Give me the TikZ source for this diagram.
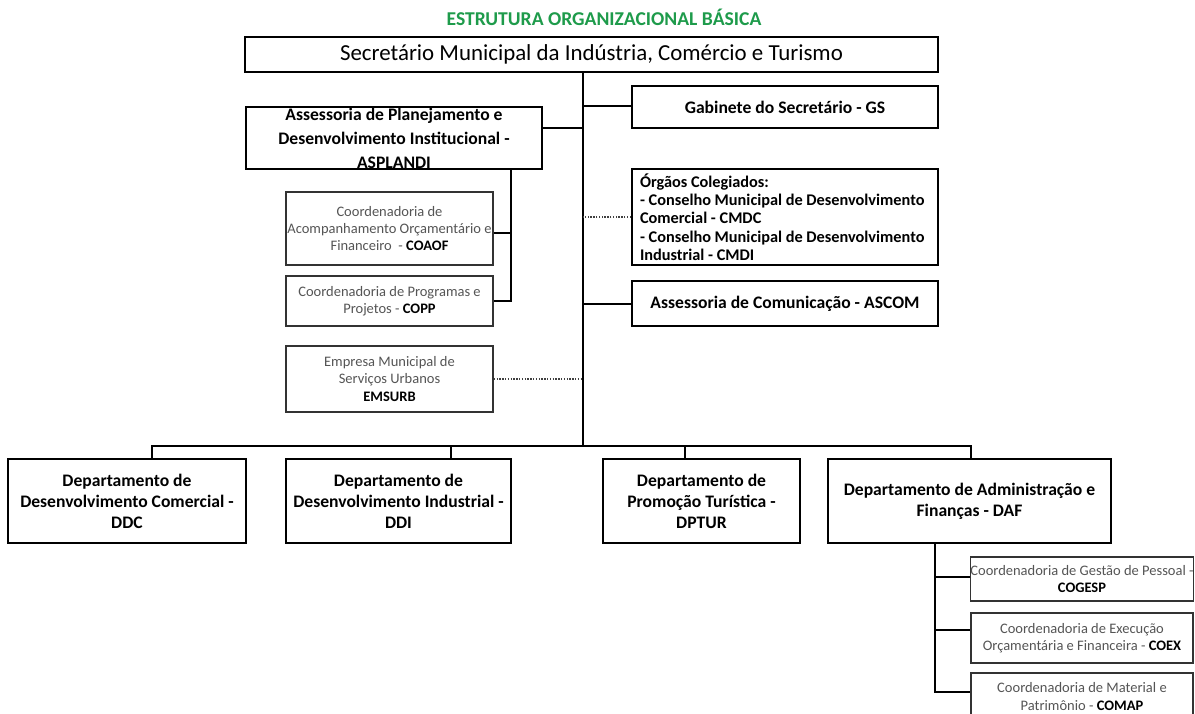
\documentclass[tikz,border=0pt]{standalone}
\usepackage{fontspec}
\setmainfont{Carlito}
\usetikzlibrary{calc}
\definecolor{titlegreen}{HTML}{1E9B4B}
\definecolor{smallgray}{HTML}{555555}
\begin{document}
\begin{tikzpicture}[x=1pt,y=-1pt,
  mainbox/.style={draw=black, line width=2.2pt, fill=white, inner sep=0pt, align=center,
    font=\fontsize{17.6}{21}\selectfont\bfseries},
  subbox/.style={draw=black!80, line width=1.6pt, fill=white, inner sep=0pt, align=center,
    text=smallgray, font=\fontsize{14.5}{17.2}\selectfont},
  conn/.style={line width=2pt},
  dotconn/.style={line width=1.6pt, black!75, dash pattern=on 1.4pt off 1.4pt}]
\useasboundingbox (0,0) rectangle (1195,713);
\clip (0,0) rectangle (1195,713);

\node[text=titlegreen, font=\fontsize{19.6}{22}\selectfont\bfseries] (title) at (604,17) {ESTRUTURA ORGANIZACIONAL BÁSICA};

\node[mainbox, minimum width=693, minimum height=35, font=\fontsize{22.9}{26}\selectfont] (sec) at (591.5,54.5)
  {Secretário Municipal da Indústria, Comércio e Turismo};
\node[mainbox, minimum width=306, minimum height=42] (gs) at (785,107) {Gabinete do Secretário - GS};
\node[mainbox, minimum width=296, minimum height=62, font=\fontsize{17.6}{24}\selectfont\bfseries] (asp) at (394,138)
  {Assessoria de Planejamento e\\Desenvolvimento Institucional -\\ASPLANDI};
\node[mainbox, minimum width=306, minimum height=96, text width=290, align=flush left,
  font=\fontsize{16.3}{18.3}\selectfont\bfseries] (org) at (785,217)
  {Órgãos Colegiados:\\- Conselho Municipal de Desenvolvimento\\Comercial - CMDC\\- Conselho Municipal de Desenvolvimento\\Industrial - CMDI};
\node[mainbox, minimum width=306, minimum height=45] (ascom) at (785,303.5) {Assessoria de Comunicação - ASCOM};

\node[subbox, minimum width=207, minimum height=73] (coaof) at (389.5,228.5)
  {Coordenadoria de\\Acompanhamento Orçamentário e\\Financeiro \ - \textcolor{black}{\bfseries COAOF}};
\node[subbox, minimum width=207, minimum height=50] (copp) at (389.5,301)
  {Coordenadoria de Programas e\\Projetos - \textcolor{black}{\bfseries COPP}};
\node[subbox, minimum width=207, minimum height=66] (emsurb) at (389.5,379)
  {Empresa Municipal de\\Serviços Urbanos\\\textcolor{black}{\bfseries EMSURB}};

\node[mainbox, minimum width=238, minimum height=84] (ddc) at (127,501)
  {Departamento de\\Desenvolvimento Comercial -\\DDC};
\node[mainbox, minimum width=225, minimum height=84] (ddi) at (398.5,501)
  {Departamento de\\Desenvolvimento Industrial -\\DDI};
\node[mainbox, minimum width=197, minimum height=84] (dptur) at (701.5,501)
  {Departamento de\\Promoção Turística -\\DPTUR};
\node[mainbox, minimum width=283, minimum height=84] (daf) at (969.5,501)
  {Departamento de Administração e\\Finanças - DAF};

\node[subbox, minimum width=222, minimum height=44] (cogesp) at (1082,579)
  {Coordenadoria de Gestão de Pessoal -\\\textcolor{black}{\bfseries COGESP}};
\node[subbox, minimum width=222, minimum height=50] (coex) at (1082,638)
  {Coordenadoria de Execução\\Orçamentária e Financeira - \textcolor{black}{\bfseries COEX}};
\node[subbox, minimum width=222, minimum height=47] (comap) at (1082,696.5)
  {Coordenadoria de Material e\\Patrimônio - \textcolor{black}{\bfseries COMAP}};

% reference coordinates
\coordinate (sp) at (583,446);
\coordinate (as) at (511,0);
\coordinate (d1) at (152,0);
\coordinate (d2) at (451,0);
\coordinate (d3) at (685,0);
\coordinate (d4) at (971,0);
\coordinate (fs) at (935,0);
\coordinate (aspb) at (0,128);
\coordinate (gsb) at (0,106);
\coordinate (coaofb) at (0,233);
\coordinate (b1) at (0,577);
\coordinate (b2) at (0,630);
\coordinate (b3) at (0,692);

% connectors
\draw[conn] (sec.south -| sp) -- (sp);
\draw[conn] (sp |- gsb) -- (gs.west |- gsb);
\draw[conn] (asp.east |- aspb) -- (sp |- aspb);
\draw[dotconn] (org.west) -- (org.west -| sp);
\draw[conn] (ascom.west) -- (ascom.west -| sp);
\draw[dotconn] (emsurb.east) -- (emsurb.east -| sp);
\draw[conn] (asp.south -| as) |- (copp.east);
\draw[conn] (coaof.east |- coaofb) -- (as |- coaofb);

\draw[conn] (ddc.north -| d1) -- (d1 |- sp) -- (d4 |- sp) -- (daf.north -| d4);
\draw[conn] (d2 |- sp) -- (ddi.north -| d2);
\draw[conn] (d3 |- sp) -- (dptur.north -| d3);

\draw[conn] (daf.south -| fs) -- (fs |- b3) -- (comap.west |- b3);
\draw[conn] (fs |- b1) -- (cogesp.west |- b1);
\draw[conn] (fs |- b2) -- (coex.west |- b2);
\end{tikzpicture}
\end{document}
